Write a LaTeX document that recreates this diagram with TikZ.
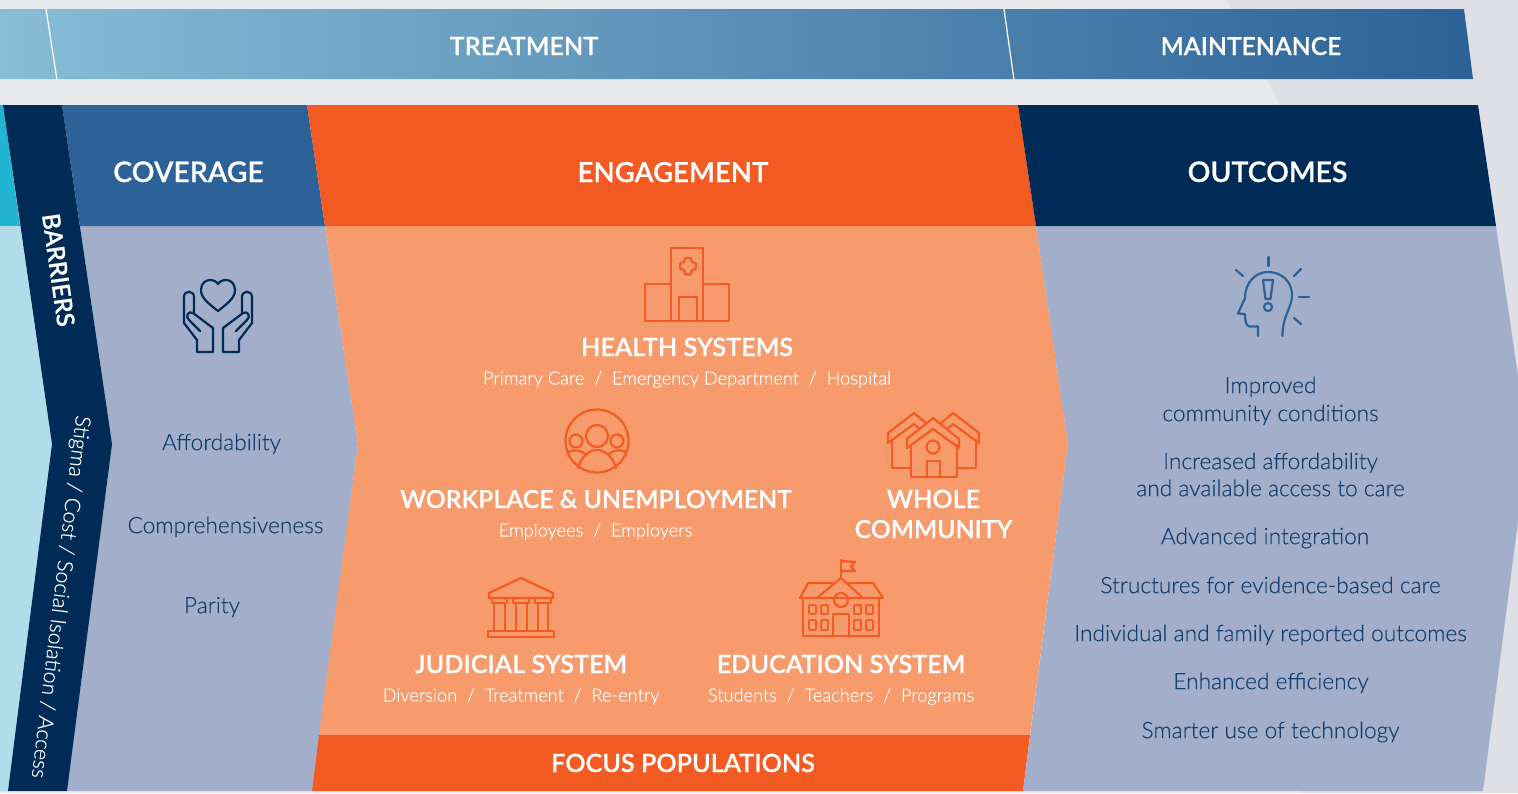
\documentclass[tikz,border=0pt]{standalone}
\usepackage{fontspec}
\setmainfont{Lato}
\newfontfamily\lightfont[FakeBold=0.2]{Lato Light}
\newfontfamily\medfont[FakeBold=0.5]{Lato Semibold}
\definecolor{bgA}{HTML}{E8E9ED}
\definecolor{bgB}{HTML}{DFE0E5}
\definecolor{navy}{HTML}{002B56}
\definecolor{blueC}{HTML}{2C6297}
\definecolor{bandL}{HTML}{88BDD6}
\definecolor{slate}{HTML}{A2AECA}
\definecolor{orangeD}{HTML}{F35B22}
\definecolor{orangeL}{HTML}{F89B6C}
\definecolor{teal}{HTML}{22B5D3}
\definecolor{tealL}{HTML}{B3DCEB}
\definecolor{bodyT}{HTML}{163E6C}
\tikzset{
  x=1pt,y=-1pt,
  base/.style={inner sep=0pt,outer sep=0pt,align=center,text depth=0pt},
  headT/.style={base,text=white,text height=20pt,font=\fontsize{28.4}{28}\medfont},
  bandT/.style={base,text=white,text height=18pt,font=\fontsize{25.2}{25}\medfont},
  groupT/.style={base,text=white,text height=18pt,font=\fontsize{25.2}{25}\medfont},
  subT/.style={base,text=white,text height=13pt,font=\fontsize{18.2}{18}\lightfont},
  itemT/.style={base,text=bodyT,text height=16.3pt,font=\fontsize{22.7}{23}\lightfont},
  iconO/.style={draw=orangeD,line width=2.2pt,line join=round,line cap=round},
  iconN/.style={draw=navy,line width=2.2pt,line join=round,line cap=round},
  iconB/.style={draw=blueC,line width=2.2pt,line join=round,line cap=round},
}
\begin{document}
\begin{tikzpicture}
\useasboundingbox (0,0) rectangle (1518,793);
\clip (0,0) rectangle (1518,793);
% background
\fill[bgA] (0,0) rectangle (1518,793);
\fill[bgB] (1227,0) -- (1280,105) -- (1300,226) -- (1300,793) -- (1518,793) -- (1518,0) -- cycle;
% top band
\shade[left color=bandL,right color=blueC] (0,9) -- (1464,9) -- (1473,79) -- (0,79) -- cycle;
\coordinate (d1a) at (46,9); \coordinate (d1b) at (57,80);
\coordinate (d2a) at (1004,9); \coordinate (d2b) at (1014,80);
\draw[white,line width=1.2pt] (d1a) -- (d1b);
\draw[white,line width=1.2pt] (d2a) -- (d2b);
\node[bandT] (treat) at (524,46) {TREATMENT};
\node[bandT,font=\fontsize{24.7}{25}\medfont] (maint) at (1251,46) {MAINTENANCE};
% left strip
\fill[teal] (0,105) -- (3,105) -- (20,226) -- (0,226) -- cycle;
\fill[tealL] (0,226) -- (20,226) -- (52,444) -- (8,791) -- (0,791) -- cycle;
% panels
\fill[slate] (80,226) -- (325,226) -- (358,444) -- (312,791) -- (67,791) -- cycle;
\fill[orangeL] (325,226) -- (1036,226) -- (1068,444) -- (1030,735) -- (319,735) -- (358,444) -- cycle;
\fill[orangeD] (319,735) -- (1030,735) -- (1023,791) -- (312,791) -- cycle;
\fill[slate] (1036,226) -- (1496,226) -- (1528,444) -- (1483,791) -- (1023,791) -- (1068,444) -- cycle;
\fill[blueC] (62,105) -- (307,105) -- (325,226) -- (80,226) -- cycle;
\fill[orangeD] (307,105) -- (1018,105) -- (1036,226) -- (325,226) -- cycle;
\fill[navy] (1018,105) -- (1478,105) -- (1496,226) -- (1036,226) -- cycle;
\fill[navy] (3,105) -- (62,105) -- (112,444) -- (67,791) -- (8,791) -- (52,444) -- cycle;
% headers
\node[headT] (cov) at (188.5,172) {COVERAGE};
\node[headT,font=\fontsize{27.6}{28}\medfont] (eng) at (673,172) {ENGAGEMENT};
\node[headT] (out) at (1267.5,172) {OUTCOMES};
\node[base,text=white,rotate=-82,text height=17.5pt,font=\fontsize{24.5}{24}\medfont] (bar) at (58.5,270) {BARRIERS};
\node[base,text=white,rotate=-97,text height=15.3pt,font=\fontsize{21.3}{21}\lightfont] (stig) at (61.5,597) {Stigma / Cost / Social Isolation / Access};
\node[groupT] (focus) at (683,763) {FOCUS POPULATIONS};
% coverage items
\node[itemT] (i1) at (221.5,442) {Affordability};
\node[itemT] (i2) at (225.5,525) {Comprehensiveness};
\node[itemT] (i3) at (212,605) {Parity};
% outcomes items
\node[itemT] (o1) at (1270.5,385) {Improved};
\node[itemT] (o2) at (1270.5,413) {community conditions};
\node[itemT] (o3) at (1270.5,461) {Increased affordability};
\node[itemT] (o4) at (1270.5,488) {and available access to care};
\node[itemT] (o5) at (1265,536) {Advanced integration};
\node[itemT] (o6) at (1270.5,585) {Structures for evidence-based care};
\node[itemT] (o7) at (1270.5,633) {Individual and family reported outcomes};
\node[itemT] (o8) at (1271,681) {Enhanced efficiency};
\node[itemT] (o9) at (1270.5,730) {Smarter use of technology};
% engagement texts
\node[groupT] (g1) at (687,347) {HEALTH SYSTEMS};
\node[subT] (s1) at (687,378) {Primary Care\ \ /\ \ Emergency Department\ \ /\ \ Hospital};
\node[groupT,font=\fontsize{24.8}{25}\medfont] (g2) at (596,499) {WORKPLACE \& UNEMPLOYMENT};
\node[subT] (s2) at (595.5,530) {Employees\ \ /\ \ Employers};
\node[groupT] (g3a) at (933.5,499) {WHOLE};
\node[groupT,font=\fontsize{24.8}{25}\medfont] (g3b) at (933.5,529) {COMMUNITY};
\node[groupT] (g4) at (521,664) {JUDICIAL SYSTEM};
\node[subT] (s4) at (521,695) {Diversion\ \ /\ \ Treatment\ \ /\ \ Re-entry};
\node[groupT] (g5) at (841,664) {EDUCATION SYSTEM};
\node[subT] (s5) at (841,695) {Students\ \ /\ \ Teachers\ \ /\ \ Programs};
% hospital
\draw[iconO] (671,321) -- (671,248) -- (703,248) -- (703,321);
\draw[iconO] (671,284) -- (645,284) -- (645,321) -- (729,321) -- (729,284) -- (703,284);
\draw[iconO] (679,321) -- (679,297) -- (697,297) -- (697,321);
\draw[iconO,rounded corners=1.5pt] (684.5,258) -- (691.5,258) -- (691.5,262.5) -- (696,262.5) -- (696,269.5) -- (691.5,269.5) -- (691.5,274.5) -- (684.5,274.5) -- (684.5,269.5) -- (680,269.5) -- (680,262.5) -- (684.5,262.5) -- cycle;
% people
\draw[iconO] (597,441) circle (31.5);
\draw[iconO] (597,436) circle (11);
\draw[iconO] (576,441) circle (6.5);
\draw[iconO] (617,441) circle (6.5);
\draw[iconO] (578,468) .. controls (581,457) and (589,450) .. (597,450) .. controls (605,450) and (613,457) .. (616,468);
\draw[iconO] (568.5,452) .. controls (574,449) and (581,450) .. (585,454);
\draw[iconO] (625.5,452) .. controls (620,449) and (613,450) .. (609,454);
% houses
\draw[iconO] (926,423) -- (914,413) -- (888,433) -- (888,443) -- (914,424) -- (920,429);
\draw[iconO] (941,423) -- (953,413) -- (979,433) -- (979,443) -- (953,424) -- (947,429);
\draw[iconO] (892,440) -- (892,468) -- (911,468);
\draw[iconO] (976,440) -- (976,468) -- (957,468);
\draw[iconO] (933,418) -- (907,439) -- (907,448) -- (933,429) -- (959,448) -- (959,439) -- cycle;
\draw[iconO] (911,445) -- (911,477) -- (957,477) -- (957,445);
\draw[iconO] (927,477) -- (927,461) -- (940,461) -- (940,477);
\draw[iconO] (933,447) circle (6.5);
% court
\draw[iconO] (521,578) -- (489,593) -- (489,598) -- (553,598) -- (553,593) -- cycle;
\draw[iconO] (492,598) rectangle (507,603);
\draw[iconO] (513,598) rectangle (529,603);
\draw[iconO] (535,598) rectangle (551,603);
\draw[iconO] (494,603) -- (494,631) (505,603) -- (505,631);
\draw[iconO] (516,603) -- (516,631) (527,603) -- (527,631);
\draw[iconO] (538,603) -- (538,631) (548,603) -- (548,631);
\draw[iconO] (488,631) rectangle (554,637);
% school
\draw[iconO] (841,578) -- (841,560);
\draw[iconO] (841,561) -- (855,562) -- (851,566.5) -- (855,571) -- (841,571);
\draw[iconO] (817,598) -- (841,578) -- (863,598);
\draw[iconO] (833,583) -- (808,583) -- (800,598) -- (883,598) -- (873,583) -- (849,583);
\draw[iconO] (803,598) -- (803,636) -- (879,636) -- (879,598);
\draw[iconO] (841,600) circle (7);
\draw[iconO] (833,636) -- (833,614) -- (849,614) -- (849,636);
\foreach \ya/\yb in {605/614,620/630}{
  \foreach \xa/\xb in {809/816,821/828,854/861,866/873}{
    \draw[iconO,rounded corners=1pt,line width=1.8pt] (\xa,\ya) rectangle (\xb,\yb);
  }
}
% heart and hands
\draw[iconN] (218,311) .. controls (208,303) and (201,298) .. (201,290) .. controls (201,283) and (206,280) .. (210,280) .. controls (214,280) and (217,282) .. (218,284) .. controls (219,282) and (222,280) .. (226,280) .. controls (230,280) and (235,283) .. (235,290) .. controls (235,298) and (228,303) .. (218,311) -- cycle;
\foreach \tx/\sx in {0/1,436/-1}{
\begin{scope}[shift={(\tx,0)},xscale=\sx]
\draw[iconN] (194,313) -- (194,297) .. controls (194,290) and (184,290) .. (184,297) -- (184,323) -- (197,340) -- (197,352) -- (213,352) -- (213,328) -- (193,313) .. controls (188,310) and (185,317) .. (189,320) -- (200,331);
\end{scope}
}
% head
\draw[iconB] (1258,336) -- (1258,326.5) -- (1250,326.5) .. controls (1246,326) and (1245,322) .. (1245,314) -- (1238,313.5) -- (1245,298) .. controls (1245,283) and (1255,272) .. (1268,272) .. controls (1282,272) and (1292,282) .. (1292,295) .. controls (1292,308) and (1282.5,315) .. (1282.5,336);
\draw[iconB] (1263,280) -- (1273,280) -- (1270.5,299) -- (1265.5,299) -- cycle;
\draw[iconB] (1268,307) circle (4);
\draw[iconB] (1268.5,257) -- (1268.5,266);
\draw[iconB] (1236,270) -- (1243,276);
\draw[iconB] (1301,269) -- (1294,276);
\draw[iconB] (1299,297) -- (1309,297);
\draw[iconB] (1294,318) -- (1301,324);
\end{tikzpicture}
\end{document}
